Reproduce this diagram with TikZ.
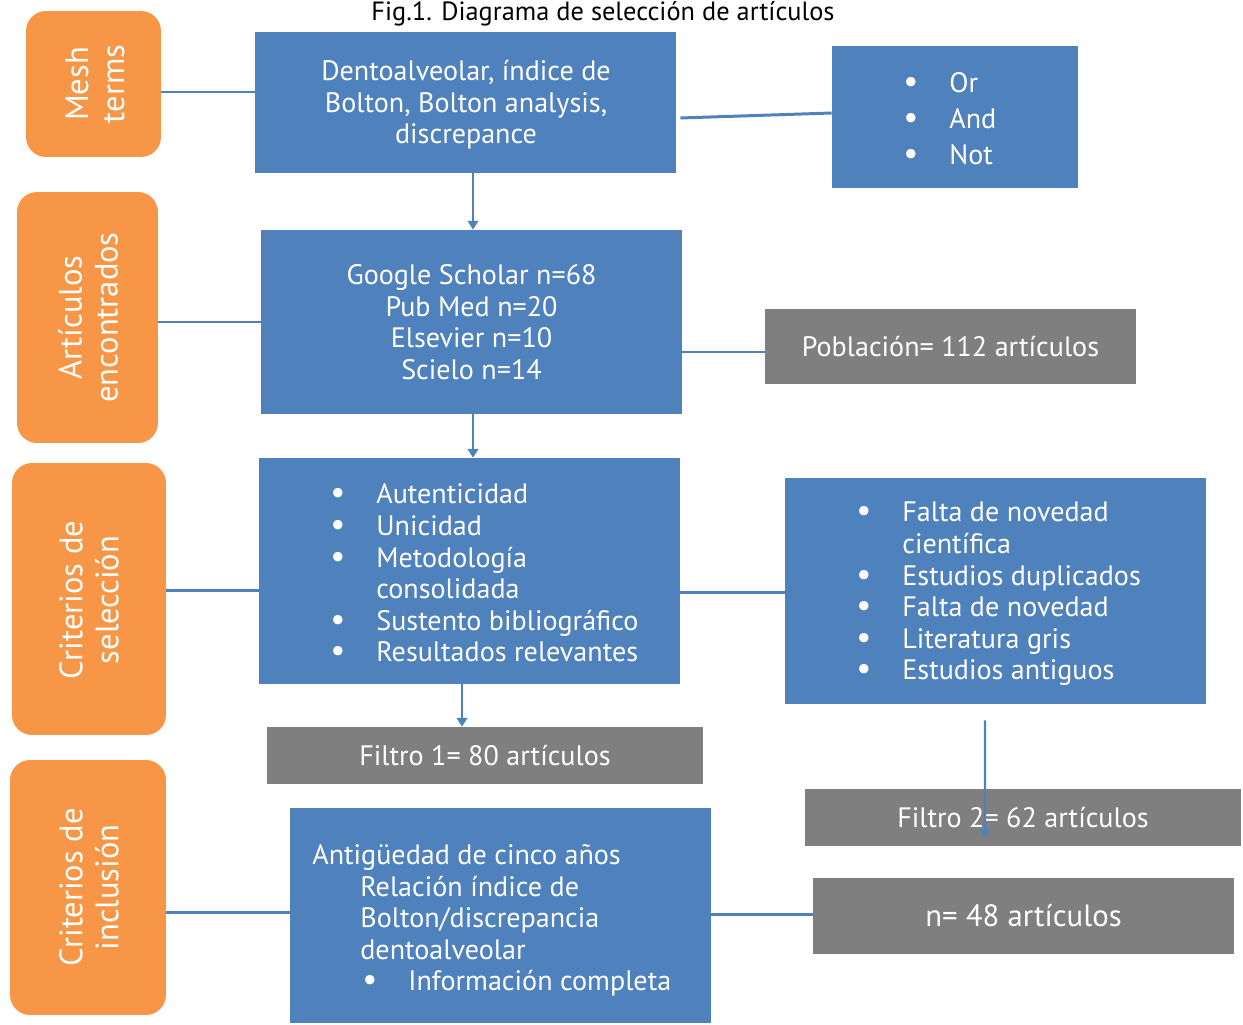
\documentclass[tikz,border=0pt]{standalone}
\usepackage{fontspec}
\setmainfont{PT Sans}
\usepackage{tikz}
\usetikzlibrary {arrows.meta}
\definecolor{blk}{HTML}{4F81BD}
\definecolor{side}{HTML}{F79646}
\definecolor{gry}{HTML}{7F7F7F}
\newcommand{\bul}{\makebox[0.92cm][l]{\fontsize{19}{18}\selectfont\textbullet}}
\newcommand{\ind}{\hspace*{0.92cm}}
\tikzset{
        base/.style={inner sep=0pt, text=white, align=center,
                     font=\fontsize{16}{18}\selectfont},
        bluebox/.style={base, rectangle, fill=blk},
        greybox/.style={base, rectangle, fill=gry},
        sidebox/.style={base, rectangle, fill=side, rounded corners=0.4cm},
        sidetxt/.style={base, rotate=90, font=\fontsize{18.5}{20.5}\selectfont},
        listtxt/.style={base, align=left, anchor=west},
        link/.style={draw=blk, line width=1.7pt},
        myarrow/.style={draw=blk, line width=1.2pt,
                        -{Triangle[width=6pt,length=5pt]}},
 }
\begin{document}
\begin{tikzpicture}[x=0.02cm, y=-0.02cm]
    \useasboundingbox (0,0) rectangle (1243,1024);

    \node[anchor=base, font=\fontsize{15}{16}\selectfont] (title) at (603,21)
        {Fig.1. Diagrama de selección de artículos};

    % orange side labels
    \node[sidebox, minimum width=2.70cm, minimum height=2.92cm] (mesh) at (93.5,84) {};
    \node[sidetxt] (meshtxt) at (95,84) {Mesh\\terms};
    \node[sidebox, minimum width=2.82cm, minimum height=5.02cm] (art) at (87.5,317.5) {};
    \node[sidetxt] (arttxt) at (88,317.5) {Artículos\\encontrados};
    \node[sidebox, minimum width=3.08cm, minimum height=5.44cm] (csel) at (89,599) {};
    \node[sidetxt] (cseltxt) at (89,600) {Criterios de\\selección};
    \node[sidebox, minimum width=3.12cm, minimum height=5.10cm] (cinc) at (88,887.5) {};
    \node[sidetxt] (cinctxt) at (89,887.5) {Criterios de\\inclusión};

    % blue and grey boxes
    \node[bluebox, minimum width=8.42cm, minimum height=2.82cm] (dento) at (465.5,102.5) {};
    \node[base] (dentotxt) at (466,105)
        {Dentoalveolar, índice de\\Bolton, Bolton analysis,\\discrepance};
    \node[bluebox, minimum width=4.92cm, minimum height=2.84cm] (ops) at (955,117) {};
    \node[listtxt, font=\fontsize{16}{20.5}\selectfont] (opstxt) at (903,119)
        {\bul Or\\\bul And\\\bul Not};
    \node[bluebox, minimum width=8.42cm, minimum height=3.68cm] (busq) at (471.5,322)
        {Google Scholar n=68\\Pub Med n=20\\Elsevier n=10\\Scielo n=14};
    \node[greybox, minimum width=7.42cm, minimum height=1.50cm] (pobl) at (950.5,346.5)
        {Población= 112 artículos};
    \node[bluebox, minimum width=8.42cm, minimum height=4.52cm] (sel) at (469.5,571) {};
    \node[listtxt] (seltxt) at (330,573)
        {\bul Autenticidad\\\bul Unicidad\\\bul Metodología\\\ind consolidada\\
         \bul Sustento bibliográfico\\\bul Resultados relevantes};
    \node[bluebox, minimum width=8.42cm, minimum height=4.52cm] (excl) at (995.5,591) {};
    \node[listtxt] (excltxt) at (856,594)
        {\bul Falta de novedad\\\ind científica\\\bul Estudios duplicados\\
         \bul Falta de novedad\\\bul Literatura gris\\\bul Estudios antiguos};
    \node[greybox, minimum width=8.72cm, minimum height=1.14cm] (f1) at (485,755.5)
        {Filtro 1= 80 artículos};
    \node[greybox, minimum width=8.72cm, minimum height=1.14cm] (f2) at (1023,817.5)
        {Filtro 2= 62 artículos};
    \node[bluebox, minimum width=8.42cm, minimum height=4.30cm] (incl) at (500.5,915.5) {};
    \node[listtxt] (incltxt) at (312,920.5)
        {Antigüedad de cinco años\\\hspace*{0.96cm}Relación índice de\\
         \hspace*{0.96cm}Bolton/discrepancia\\\hspace*{0.96cm}dentoalveolar\\
         \hspace*{1.0cm}\bul Información completa};
    \node[greybox, minimum width=8.42cm, minimum height=1.52cm,
          font=\fontsize{17.5}{19}\selectfont] (n48) at (1023.5,916) {n= 48 artículos};

    \coordinate (f2tip) at (985,838);

    \draw[link] (mesh.east |- 0,92) -- (dento.west |- 0,92);
    \draw[link] ([xshift=0.08cm,yshift=-0.31cm]dento.east) -- ([yshift=0.08cm]ops.west);
    \draw[link] (art.east |- busq.west) -- (busq.west);
    \draw[link] (busq.east |- 0,352) -- (pobl.west |- 0,352);
    \draw[link] (csel.east |- 0,590) -- (sel.west |- 0,590);
    \draw[link] (sel.east |- 0,592) -- (excl.west |- 0,592);
    \draw[link] (cinc.east |- 0,912) -- (incl.west |- 0,912);
    \draw[link] (incl.east |- 0,914) -- (n48.west |- 0,914);

    \draw[myarrow] (dento.south -| 473,0) -- (busq.north -| 473,0);
    \draw[myarrow] (busq.south -| 473,0) -- (sel.north -| 473,0);
    \draw[myarrow] (sel.south -| 462,0) -- (f1.north -| 462,0);
    \draw[myarrow] ([xshift=-0.21cm,yshift=-0.32cm]excl.south) -- (f2tip);
\end{tikzpicture}
\end{document}
